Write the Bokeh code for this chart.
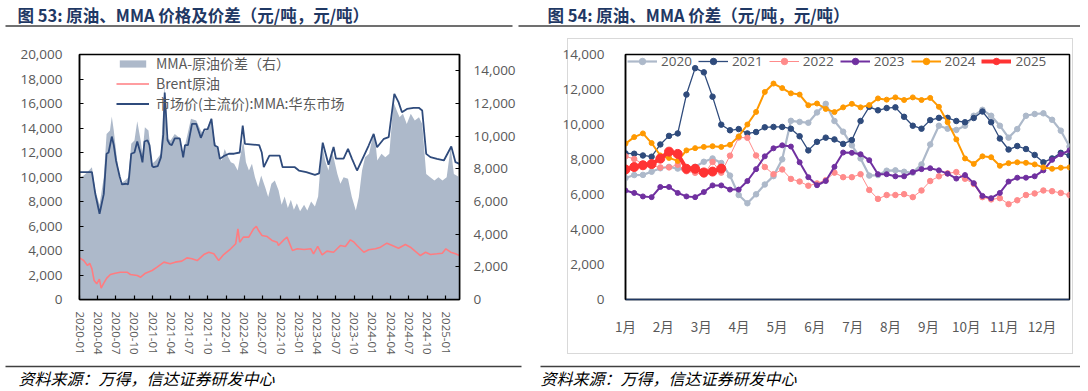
import pandas as pd
from bokeh.plotting import figure
from bokeh.models import (Range1d, LinearAxis, FixedTicker, MonthsTicker, DatetimeTickFormatter,
                          Legend, LegendItem, NumeralTickFormatter, CustomJSTickFormatter)
from bokeh.layouts import column, row
from bokeh.core.properties import value
from bokeh.embed import file_html
from bokeh.resources import INLINE

# ---------------- data: left chart (图53) ----------------
mma_dates = ["2020-01-01","2020-03-03","2020-03-20","2020-04-10","2020-05-01","2020-05-15","2020-05-25","2020-06-10",
             "2020-06-20","2020-07-01","2020-07-20","2020-07-30","2020-08-20","2020-08-30","2020-09-05","2020-09-15",
             "2020-10-01","2020-10-15","2020-11-01","2020-11-10","2020-11-20","2020-12-05","2020-12-15","2020-12-28",
             "2021-01-05","2021-01-25","2021-02-10","2021-02-22","2021-03-01","2021-03-15","2021-03-25","2021-04-05",
             "2021-04-20","2021-05-15","2021-06-01","2021-06-10","2021-06-25","2021-07-15","2021-08-05","2021-08-28",
             "2021-09-15","2021-10-01","2021-10-20","2021-11-05","2021-11-20","2021-12-01","2021-12-20","2022-01-15",
             "2022-02-10","2022-03-10","2022-03-25","2022-04-05","2022-05-15","2022-06-15","2022-06-28","2022-07-08",
             "2022-08-05","2022-09-25","2022-10-10","2022-12-10","2022-12-30","2023-02-05","2023-03-20","2023-04-10",
             "2023-04-28","2023-05-27","2023-06-21","2023-07-03","2023-08-10","2023-09-01","2023-09-21","2023-10-16",
             "2023-12-13","2024-01-07","2024-01-24","2024-02-27","2024-03-22","2024-04-19","2024-05-10","2024-05-27",
             "2024-06-21","2024-07-24","2024-08-19","2024-09-05","2024-09-25","2024-10-16","2024-11-18","2024-12-22",
             "2025-01-28","2025-02-18","2025-03-10"]
mma_values = [10400,10400,8600,7000,8600,11900,12000,13300,
              12600,11350,10000,9400,9450,9400,10100,11900,
              12000,12900,11900,11200,12900,13000,12600,10900,
              10800,10880,11600,13500,16900,13000,12700,12600,
              13150,13150,11600,12600,12600,14340,14340,13200,
              13880,13900,14750,12570,12450,11480,11700,11900,
              11900,12000,14200,12700,12650,12600,12000,10800,
              11750,11750,10800,10800,10530,10400,10180,10300,
              12800,11000,12450,11500,11500,12300,11480,10530,
              12570,13520,12430,13120,13250,16790,16110,15290,
              15560,15650,15650,15430,11890,11620,11480,11350,
              12490,11210,11075]

brent_dates = ["2020-01-01","2020-01-22","2020-02-10","2020-02-21","2020-03-03","2020-03-14","2020-03-27","2020-04-09",
               "2020-04-18","2020-05-01","2020-05-16","2020-06-03","2020-06-27","2020-07-22","2020-08-25","2020-09-11",
               "2020-10-15","2020-11-01","2020-11-25","2020-12-28","2021-01-22","2021-02-25","2021-03-28","2021-04-22",
               "2021-05-25","2021-06-20","2021-07-15","2021-08-10","2021-09-12","2021-10-07","2021-11-01","2021-11-25",
               "2021-12-20","2022-01-24","2022-02-18","2022-03-01","2022-03-10","2022-03-28","2022-04-24","2022-05-18",
               "2022-06-01","2022-06-12","2022-06-29","2022-07-25","2022-08-18","2022-09-13","2022-09-19","2022-10-16",
               "2022-11-01","2022-11-28","2022-12-22","2023-01-25","2023-02-28","2023-03-13","2023-04-03","2023-04-25",
               "2023-05-19","2023-06-21","2023-07-25","2023-08-19","2023-09-13","2023-10-01","2023-10-16","2023-11-19",
               "2023-12-13","2024-01-16","2024-02-10","2024-03-13","2024-04-09","2024-05-10","2024-06-13","2024-07-08",
               "2024-08-02","2024-08-27","2024-09-22","2024-10-16","2024-11-18","2024-12-14","2025-01-01","2025-01-25",
               "2025-02-18","2025-03-10"]
brent_values = [3400,3180,2775,2960,2500,1550,1280,1660,
                925,1330,1740,2040,2150,2230,2230,2040,
                1960,1820,2150,2370,2640,3050,2910,3050,
                3130,3400,3320,3180,3670,3860,3730,3180,
                3670,4140,4550,5770,4680,5090,5090,5770,
                5960,5630,5225,5140,4820,4680,4410,4870,
                5090,4000,4140,4080,4140,3730,4330,3650,
                3950,3860,4410,4330,4870,4680,4410,3860,
                4055,4140,4270,4600,4410,4190,4490,4270,
                3920,3590,3860,3670,3730,3780,4140,3860,
                3730,3590]

spread_dates = ["2020-01-01","2020-01-22","2020-02-10","2020-03-03","2020-03-20","2020-04-10","2020-05-01","2020-05-15",
                "2020-06-01","2020-06-10","2020-06-20","2020-07-05","2020-07-22","2020-08-15","2020-09-01","2020-09-15",
                "2020-10-01","2020-10-15","2020-11-01","2020-11-10","2020-11-22","2020-12-10","2020-12-28","2021-01-15",
                "2021-02-10","2021-02-28","2021-03-10","2021-03-30","2021-04-20","2021-05-10","2021-05-28","2021-06-10",
                "2021-07-10","2021-08-05","2021-08-28","2021-09-10","2021-09-30","2021-10-20","2021-11-05","2021-11-15",
                "2021-12-01","2021-12-10","2021-12-25","2022-01-10","2022-01-25","2022-02-10","2022-02-28","2022-03-15",
                "2022-03-28","2022-04-10","2022-04-25","2022-05-10","2022-05-25","2022-06-10","2022-06-25","2022-07-15",
                "2022-07-30","2022-08-15","2022-09-01","2022-09-20","2022-10-05","2022-10-20","2022-11-05","2022-11-20",
                "2022-12-05","2022-12-20","2023-01-05","2023-01-25","2023-02-10","2023-03-01","2023-03-20","2023-04-05",
                "2023-04-25","2023-05-10","2023-05-27","2023-06-10","2023-06-21","2023-07-10","2023-07-25","2023-08-10",
                "2023-09-01","2023-09-20","2023-10-10","2023-10-25","2023-11-10","2023-11-25","2023-12-15","2024-01-05",
                "2024-01-15","2024-01-25","2024-02-15","2024-03-05","2024-03-25","2024-04-15","2024-05-01","2024-05-15",
                "2024-06-01","2024-06-20","2024-07-10","2024-07-30","2024-08-20","2024-09-05","2024-09-25","2024-10-15",
                "2024-11-05","2024-11-25","2024-12-15","2025-01-05","2025-01-25","2025-02-10","2025-03-10"]
spread_values = [7490,7590,7800,8100,6670,5800,7490,10140,
                 10350,11200,10350,8710,7080,7290,7490,9530,
                 9730,10920,9730,8920,10550,10350,8310,8510,
                 8920,13200,9940,9730,10140,9940,8710,9430,
                 11060,10960,10350,10140,10550,11120,9730,9330,
                 8710,8510,9220,8760,8410,8310,7900,8920,
                 9730,8410,7900,8310,7490,6880,7590,6880,
                 6270,7080,7290,6670,5800,6300,5600,6100,
                 5500,5900,5400,5800,5450,6000,5700,6300,
                 9530,8500,7900,9120,8710,7690,7080,7490,
                 7390,6270,5450,6270,7900,8710,8920,10140,
                 9730,8510,8920,8710,8920,12080,11570,11160,
                 11370,10750,11370,10960,11160,10750,7690,7490,
                 7290,7490,7290,7490,9330,7690,7490]

left_yticks = list(range(0, 20001, 2000))
right_yticks = list(range(0, 14001, 2000))

# ---------------- data: right chart (图54) ----------------
y2020 = [6940,7110,7120,7300,7500,7580,7480,7410,7580,7870,8060,7800,7080,5970,5500,6010,6570,7050,
         8010,10210,10150,10100,10690,11180,10200,9590,8810,8060,7080,7110,7360,7380,7300,7250,7720,
         8860,9930,9760,9690,9930,10500,10840,10500,9930,9250,9740,10500,10600,10640,10270,9650,8740]
y2021 = [8350,8330,8230,8160,8860,9350,9490,11710,13220,12980,11590,9990,9670,9740,9490,9570,9840,9860,
         9860,9760,9330,8520,9010,9250,9150,8890,9110,10200,11010,10810,10940,10980,10440,9930,9760,
         10250,10380,10380,10200,10130,10370,10740,10130,9200,8570,8770,8600,8260,7840,8060,8380,8230]
y2022 = [8180,8030,7750,7640,7550,7550,7700,7330,7240,7140,7860,7250,8220,9260,9240,8230,7570,7160,
         7430,6890,6740,6500,6630,6820,7250,6990,6990,7160,6260,5750,5970,5970,6020,5850,6230,
         6770,7040,7210,7280,6900,6600,5850,5720,5790,5450,5670,5970,6060,6230,6190,6090,5970]
y2023 = [6230,6090,5890,5850,6430,6430,6090,5890,5850,6140,6520,6520,6280,6280,6770,7450,8180,8640,
         8810,8740,7840,6990,6530,6770,7580,8400,8380,8300,7960,7160,7160,7040,7040,7280,7450,
         7500,7380,7190,6910,7110,6650,5920,5790,6090,6740,6960,6960,7040,7380,7980,8300,8520]
y2024 = [8910,9280,9490,8940,8230,8090,7920,8520,8650,8720,8760,8720,8840,9320,10000,10720,11860,12340,
         12080,11780,11710,11100,11200,10890,10710,10980,11180,10980,11110,11490,11420,11550,11400,11550,11400,
         11520,11010,10130,9150,8060,7750,8180,8130,7640,7790,7840,7810,7720,7550,7470,7530,7550]
y2025 = [7430,7570,7670,7740,8050,8450,8320,7470,7470,7260,7310,7480]
series_labels = ["2020", "2021", "2022", "2023", "2024", "2025"]
month_labels = ["1月","2月","3月","4月","5月","6月","7月","8月","9月","10月","11月","12月"]
weeks_per_month = 4.35
right_ticks = list(range(0, 14001, 2000))

# ---------------- styles ----------------
GREY_TXT = "#595959"
NUM_FONT = "Open Sans"
CJK = "Noto Sans CJK SC"


def strip(h):
    s = figure(width=1080, height=h, x_range=Range1d(0, 1080), y_range=Range1d(h, 0),
               toolbar_location=None, output_backend="svg", x_axis_type=None, y_axis_type=None,
               min_border=0)
    s.outline_line_color = None
    return s


# ---------------- title strip ----------------
top = strip(38)
top.text(x=[17, 547], y=[14, 14],
         text=["图 53:  原油、MMA 价格及价差（元/吨，元/吨）", "图 54:  原油、MMA 价差（元/吨，元/吨）"],
         text_font=value(CJK), text_font_size="16.5px", text_font_style="bold",
         text_baseline="middle", text_align="left", text_color="#1F3864")
top.segment(x0=[5, 518], y0=[25.5, 25.5], x1=[512, 1080], y1=[25.5, 25.5],
            line_color="#404040", line_width=1.5)

# ---------------- left chart ----------------
mma_x = pd.to_datetime(mma_dates)
brent_x = pd.to_datetime(brent_dates)
spread_x = pd.to_datetime(spread_dates)

p1 = figure(width=536, height=320, x_axis_type="datetime",
            x_range=Range1d(pd.Timestamp("2020-01-01"), pd.Timestamp("2025-03-10")),
            y_range=Range1d(0, 20000), toolbar_location=None, output_backend="svg",
            min_border_left=79, min_border_right=77, min_border_top=16, min_border_bottom=59)
p1.extra_y_ranges = {"right": Range1d(0, 15000)}
p1.grid.visible = False
p1.outline_line_color = "black"
p1.outline_line_width = 1.5

ra = p1.varea(x=spread_x, y1=0, y2=spread_values, y_range_name="right", fill_color="#ADB9CA")
rb = p1.line(brent_x, brent_values, line_color="#FF7C80", line_width=1.6)
rm = p1.line(mma_x, mma_values, line_color="#2F4B7C", line_width=1.8)

raxis = LinearAxis(y_range_name="right", ticker=FixedTicker(ticks=right_yticks),
                   formatter=NumeralTickFormatter(format="0,0"))
p1.add_layout(raxis, "right")

p1.yaxis[0].ticker = FixedTicker(ticks=left_yticks)
p1.yaxis[0].formatter = NumeralTickFormatter(format="0,0")
p1.xaxis.ticker = MonthsTicker(months=[0, 3, 6, 9])
fmt = "%Y-%m"
p1.xaxis.formatter = DatetimeTickFormatter(days=fmt, months=fmt, years=fmt, hours=fmt, minutes=fmt)
p1.xaxis.major_label_orientation = "vertical"

for ax in p1.axis:
    ax.axis_line_color = "black"
    ax.axis_line_width = 1.5
    ax.major_tick_line_color = "black"
    ax.major_tick_line_width = 1.2
    ax.major_tick_in = 4
    ax.major_tick_out = 0
    ax.minor_tick_line_color = None
    ax.major_label_text_color = GREY_TXT
    ax.major_label_text_font = NUM_FONT
    ax.major_label_text_font_size = "13.5px"
p1.xaxis.major_label_text_font_size = "11.5px"
p1.xaxis.major_label_standoff = 12
p1.yaxis[0].major_label_standoff = 17
raxis.major_label_standoff = 14

leg1 = Legend(items=[LegendItem(label="MMA-原油价差（右）", renderers=[ra]),
                     LegendItem(label="Brent原油", renderers=[rb]),
                     LegendItem(label="市场价(主流价):MMA:华东市场", renderers=[rm])],
              location=(37, 186), glyph_width=33, glyph_height=9, label_height=9, spacing=0,
              padding=0, margin=0, border_line_color=None, background_fill_alpha=0,
              label_text_font=CJK, label_text_font_size="14px", label_text_color=GREY_TXT,
              label_standoff=7)
p1.add_layout(leg1)

# ---------------- right chart ----------------
box_css = ("linear-gradient(#D9D9D9,#D9D9D9) 31px 0px / 1px 316px no-repeat, "
           "linear-gradient(#D9D9D9,#D9D9D9) 31px 0px / 506px 1px no-repeat, "
           "linear-gradient(#D9D9D9,#D9D9D9) 536px 0px / 1px 316px no-repeat, "
           "linear-gradient(#D9D9D9,#D9D9D9) 31px 315px / 506px 1px no-repeat, #ffffff")
p2 = figure(width=544, height=320, x_range=Range1d(0, 51), y_range=Range1d(0, 14000),
            toolbar_location=None, output_backend="svg",
            min_border_left=89, min_border_right=11, min_border_top=11, min_border_bottom=34,
            styles={"background": box_css})
p2.border_fill_color = None
p2.background_fill_color = "white"
p2.grid.visible = False
p2.outline_line_color = "black"
p2.outline_line_width = 1.5

styles = [("#ADB9CA", 2.2, 5.5), ("#2F4B7C", 1.3, 5.5), ("#FF8B8B", 1.0, 5.5),
          ("#7030A0", 2.0, 5), ("#FF9900", 2.0, 5), ("#FF3333", 4.0, 9)]
all_series = [y2020, y2021, y2022, y2023, y2024, y2025]
items = []
for lab, vals, (col, lw, ms) in zip(series_labels, all_series, styles):
    xs = list(range(len(vals)))
    rl = p2.line(xs, vals, line_color=col, line_width=lw)
    rs = p2.scatter(xs, vals, size=ms, fill_color=col, line_color=col)
    items.append(LegendItem(label=lab, renderers=[rl, rs]))

p2.xaxis.ticker = FixedTicker(ticks=[i * weeks_per_month for i in range(len(month_labels))])
p2.xaxis.formatter = CustomJSTickFormatter(
    args=dict(labels=month_labels, w=weeks_per_month),
    code="return labels[Math.round(tick / w)];")
p2.yaxis.ticker = FixedTicker(ticks=right_ticks)
p2.yaxis.formatter = NumeralTickFormatter(format="0,0")
for ax in p2.axis:
    ax.major_tick_line_color = None
    ax.minor_tick_line_color = None
    ax.axis_line_width = 1.5
    ax.major_label_text_color = GREY_TXT
    ax.major_label_text_font_size = "13.5px"
p2.yaxis.axis_line_color = "black"
p2.yaxis.major_label_text_font = NUM_FONT
p2.yaxis.major_label_standoff = 15
p2.xaxis.axis_line_color = "#1F3864"
p2.xaxis.major_label_text_font = CJK
p2.xaxis.major_label_standoff = 10

leg2 = Legend(items=items, orientation="horizontal", location=(2, 229),
              glyph_width=30, glyph_height=16, label_height=16, spacing=6, label_standoff=4,
              padding=0, margin=0, border_line_color=None, background_fill_alpha=0,
              label_text_font=NUM_FONT, label_text_font_size="13.5px", label_text_color=GREY_TXT)
p2.add_layout(leg2)

# ---------------- footer strip ----------------
bot = strip(31)
bot.segment(x0=[5, 540], y0=[8, 8], x1=[521, 1080], y1=[8, 8], line_color="#404040", line_width=1.5)
bot.text(x=[18, 540], y=[19, 19], text=["资料来源：万得，信达证券研发中心", "资料来源：万得，信达证券研发中心"],
         text_font=value(CJK), text_font_size="16px", text_font_style="italic",
         text_baseline="middle", text_align="left", text_color="black")

layout = column(top, row(p1, p2, spacing=0), bot, spacing=0)
open("out.html", "w").write(file_html(layout, INLINE))
